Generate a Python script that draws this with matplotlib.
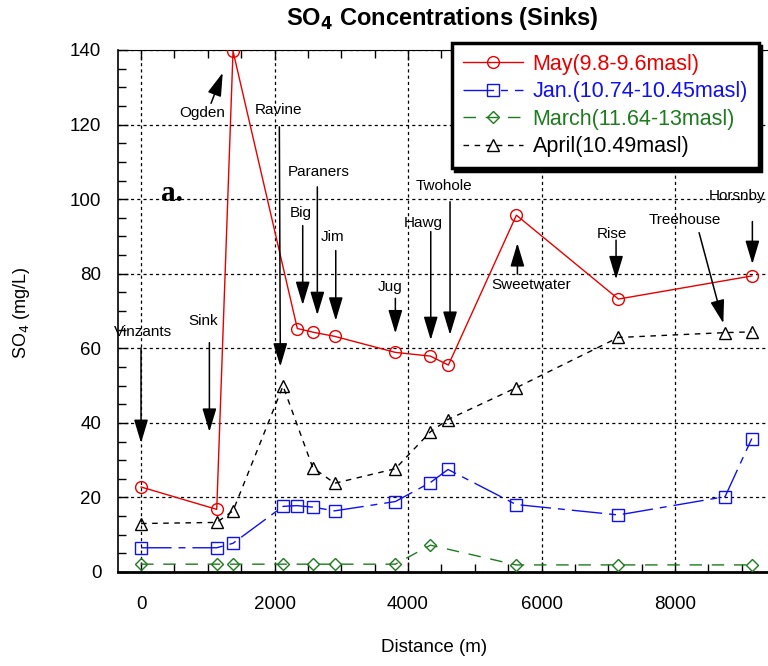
import matplotlib.pyplot as plt
import numpy as np

plt.rcParams['font.family'] = ['Liberation Sans', 'DejaVu Sans']

# distance along the sink line (m) and SO4 (mg/L) for each sampling run
may_x = [0, 1134, 1378, 2341, 2581, 2901, 3810, 4335, 4604, 5623, 7151, 9149]
may_y = [22.8, 16.8, 139.7, 65.3, 64.3, 63.2, 58.9, 57.9, 55.5, 95.7, 73.2, 79.4]

jan_x = [0, 1134, 1378, 2127, 2337, 2572, 2901, 3810, 4335, 4599, 5618, 7151, 8749, 9149]
jan_y = [6.5, 6.5, 7.7, 17.6, 17.8, 17.4, 16.4, 18.9, 24.0, 27.5, 18.1, 15.3, 20.2, 35.8]

mar_x = [0, 1134, 1378, 2127, 2572, 2901, 3810, 4335, 5618, 7151, 9149]
mar_y = [2.1, 2.1, 2.1, 2.1, 2.1, 2.1, 2.1, 7.2, 1.9, 1.9, 1.9]

apr_x = [0, 1134, 1378, 2127, 2572, 2901, 3810, 4335, 4599, 5618, 7151, 8749, 9149]
apr_y = [13.0, 13.3, 16.4, 49.9, 28.0, 23.8, 27.7, 37.6, 40.9, 49.4, 62.9, 64.2, 64.4]

series_labels = ['May(9.8-9.6masl)', 'Jan.(10.74-10.45masl)',
                 'March(11.64-13masl)', 'April(10.49masl)']

# site names: label position, arrow tail, arrow tip
sites = [
    ('Vinzants',   (30, 64.4),   (0, 60.1),     (0, 34.6)),
    ('Sink',       (934, 67.4),  (1024, 61.5),  (1024, 37.6)),
    ('Ogden',      (909, 123.0), (1049, 125.7), (1224, 133.9)),
    ('Ravine',     (2057, 123.9), (2072, 119.4), (2087, 55.1)),
    ('Paraners',   (2667, 107.2), (2641, 103.3), (2641, 68.9)),
    ('Big',        (2397, 96.2), (2422, 92.9),  (2422, 71.6)),
    ('Jim',        (2872, 89.8), (2917, 86.2),  (2917, 67.4)),
    ('Jug',        (3730, 76.4), (3810, 73.4),  (3810, 64.0)),
    ('Hawg',       (4230, 93.7), (4340, 91.3),  (4340, 62.2)),
    ('Twohole',    (4544, 103.6), (4629, 99.3), (4629, 63.6)),
    ('Sweetwater', (5838, 77.0), (5638, 79.9),  (5638, 88.2)),
    ('Rise',       (7051, 90.6), (7116, 89.0),  (7116, 78.5)),
    ('Treehouse',  (8150, 94.4), (8360, 91.0),  (8723, 66.7)),
    ('Horsnby',    (8924, 100.8), (9158, 94.0), (9158, 82.6)),
]

fig = plt.figure(figsize=(7.68, 6.66), dpi=100)
ax = fig.add_axes([118/768, 94/666, 0.8905, 522/666])

ax.plot(may_x, may_y, color='#e80000', lw=1, marker='o', ms=8.5, mfc='none',
        label=series_labels[0], zorder=4)
ax.plot(jan_x, jan_y, color='#1010f0', lw=1, ls=(0, (22, 5, 5, 5)), marker='s',
        ms=8, mfc='none', label=series_labels[1], zorder=4)
ax.plot(mar_x, mar_y, color='#1e7b1e', lw=1, ls=(0, (9, 7)), marker='D',
        ms=6.5, mfc='none', label=series_labels[2], zorder=4)
ax.plot(apr_x, apr_y, color='black', lw=1, ls=(0, (4, 4)), marker='^',
        ms=8, mfc='none', label=series_labels[3], zorder=4)

for name, txt, tail, tip in sites:
    ax.text(txt[0], txt[1], name, fontsize=11, ha='center', va='center', zorder=5)
    ax.annotate('', xy=tip, xytext=tail,
                arrowprops=dict(arrowstyle='-|>,head_length=0.9,head_width=0.27',
                                color='black', lw=1.1, mutation_scale=16,
                                shrinkA=0, shrinkB=0), zorder=5)

ax.text(464, 101.6, 'a.', fontsize=21, fontweight='bold', family='Liberation Serif',
        ha='center', va='center')

ax.set_xlim(-345, 9900)
ax.set_ylim(0, 140)
ax.set_xticks([0, 2000, 4000, 6000, 8000])
ax.set_xticks(np.arange(0, 9501, 500), minor=True)
ax.set_yticks(np.arange(0, 141, 20))
ax.set_yticks(np.arange(0, 141, 5), minor=True)
ax.tick_params(which='both', direction='in', top=True, right=True, labelsize=13.5)
ax.tick_params(which='major', length=7, width=1)
ax.tick_params(which='minor', length=6, width=1)
ax.tick_params(axis='x', pad=17)
ax.tick_params(axis='y', pad=12)
ax.grid(True, which='major', color='black', lw=0.9, ls=(0, (2.5, 2.5)))
ax.spines['bottom'].set_linewidth(2)
ax.spines['left'].set_linewidth(1.2)
ax.spines['top'].set_linewidth(0.8)

leg = ax.legend(loc='upper left', bbox_to_anchor=(0.488, 1.0134), fontsize=15.5,
                fancybox=False, shadow={'color': 'black', 'alpha': 1},
                edgecolor='black', framealpha=1, handlelength=2.8,
                labelspacing=0.3, borderpad=0.5, handletextpad=0.45, numpoints=1,
                borderaxespad=0)
leg.get_frame().set_linewidth(2.5)
for t, c in zip(leg.get_texts(), ['#e80000', '#1010f0', '#1e7b1e', 'black']):
    t.set_color(c)

fig.text(442/768, 1 - 19/666, r'SO$_\mathbf{4}$ Concentrations (Sinks)',
         fontsize=17, fontweight='bold', ha='center', va='center')
fig.text(434/768, 1 - 648/666, 'Distance (m)', fontsize=13.5, ha='center', va='center')
fig.text(22/768, 1 - 313/666, r'SO$_4$ (mg/L)', fontsize=13, rotation=90,
         ha='center', va='center')

fig.savefig('out.png', dpi=100)
